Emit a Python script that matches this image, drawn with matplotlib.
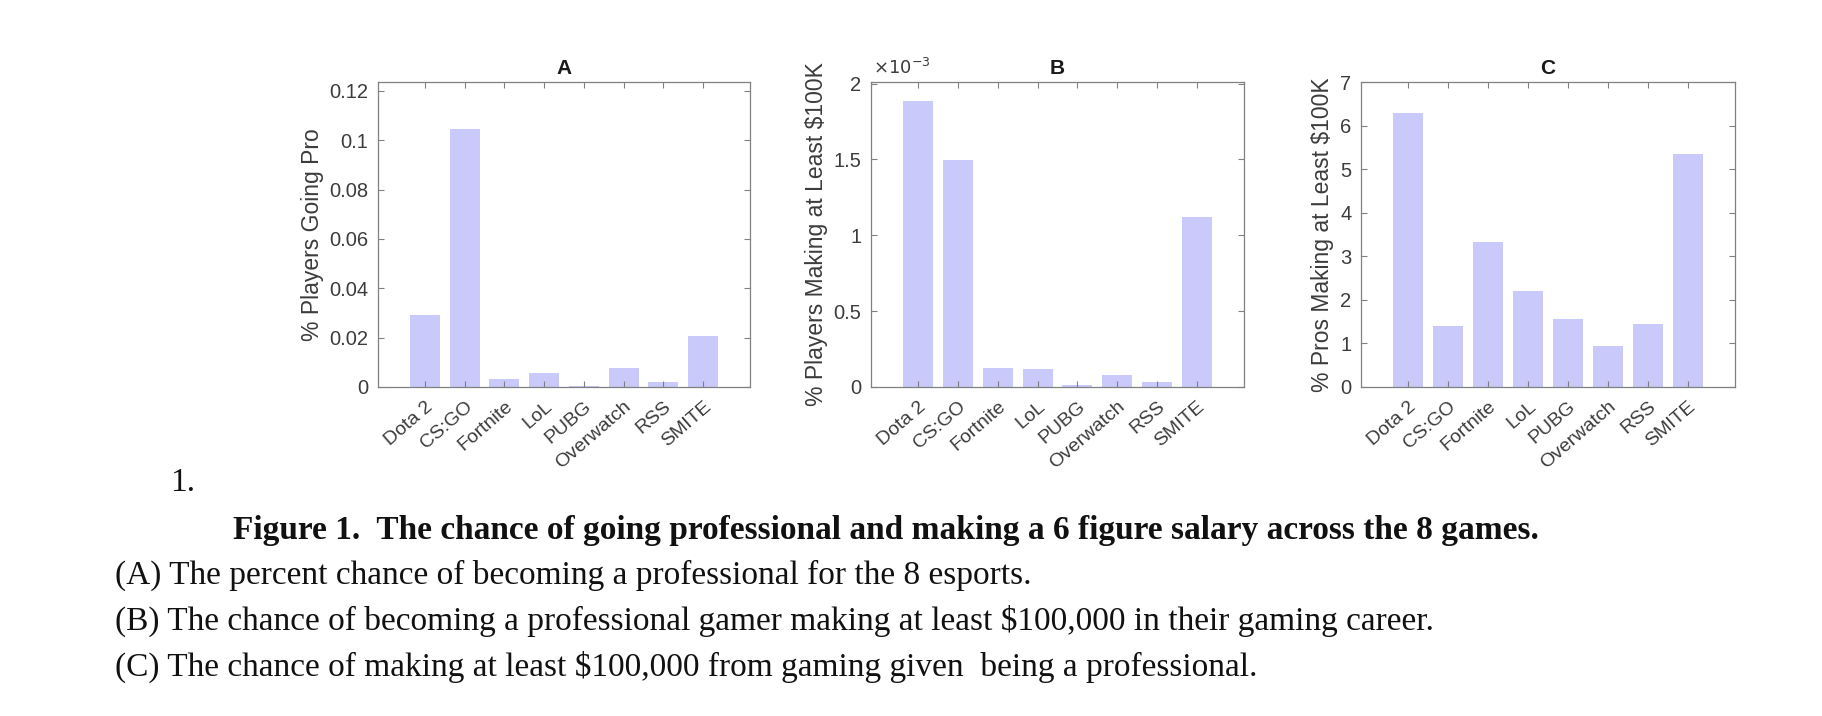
import numpy as np
import matplotlib
matplotlib.use('Agg')
import matplotlib.pyplot as plt
import matplotlib.transforms as mtransforms
from matplotlib.ticker import FuncFormatter

games = ['Dota 2', 'CS:GO', 'Fortnite', 'LoL', 'PUBG', 'Overwatch', 'RSS', 'SMITE']
pct_going_pro = [0.0293, 0.1047, 0.0034, 0.0057, 0.0004, 0.0079, 0.0020, 0.0205]
pct_players_100k = [1.884e-3, 1.495e-3, 0.125e-3, 0.121e-3, 0.010e-3, 0.077e-3, 0.030e-3, 1.12e-3]
pct_pros_100k = [6.28, 1.40, 3.33, 2.20, 1.55, 0.93, 1.45, 5.35]

W, H = 1822, 716
bar_color = '#c9c9fb'
text_color = '#3c3c3c'
axis_color = '#808080'

plt.rcParams['font.family'] = ['Liberation Sans', 'DejaVu Sans']

fig = plt.figure(figsize=(W / 100, H / 100), dpi=100)


def px_axes(x0, x1, y0, y1):
    return fig.add_axes([x0 / W, 1 - y1 / H, (x1 - x0) / W, (y1 - y0) / H])


panels = [
    ('A', pct_going_pro, '% Players Going Pro', 0.1236, np.arange(0, 0.121, 0.02), 1.0, (378, 750)),
    ('B', pct_players_100k, '% Players Making at Least \\$100K', 2.01e-3, np.arange(0, 2.01e-3, 0.5e-3), 1e3, (871, 1244)),
    ('C', pct_pros_100k, '% Pros Making at Least \\$100K', 7.0, np.arange(0, 7.1, 1), 1.0, (1361, 1735)),
]

# small shift of the rotated game names to the right, like the original
shift = mtransforms.ScaledTranslation(5 / 100, 0, fig.dpi_scale_trans)

x = np.arange(1, len(games) + 1)
for title, vals, ylab, ytop, yt, scale, (x0, x1) in panels:
    ax = px_axes(x0, x1, 82, 387)
    ax.bar(x, vals, width=0.75, color=bar_color, edgecolor='none')
    ax.set_xlim(-0.18, 9.18)
    ax.set_ylim(0, ytop)
    ax.set_yticks(yt)
    ax.yaxis.set_major_formatter(FuncFormatter(lambda v, p, s=scale: '%g' % round(v * s, 6)))
    ax.set_xticks(x)
    ax.set_xticklabels(games, rotation=41, ha='right', rotation_mode='anchor')
    for lbl in ax.get_xticklabels():
        lbl.set_transform(lbl.get_transform() + shift)
    ax.tick_params(direction='in', length=4, width=0.8, colors=axis_color,
                   labelcolor=text_color, top=True, right=True)
    ax.tick_params(axis='y', pad=7, labelsize=14.5)
    ax.tick_params(axis='x', pad=8, labelsize=14)
    for s in ax.spines.values():
        s.set_color(axis_color)
        s.set_linewidth(0.9)
    ax.set_ylabel(ylab, fontsize=16.5, color=text_color, labelpad=4)
    ax.set_title(title, fontsize=15, fontweight='bold', color='#1a1a1a', pad=6)
    if title == 'B':
        ax.text(0.005, 1.012, '$\\times10^{-3}$', transform=ax.transAxes, fontsize=13,
                color=text_color, ha='left', va='bottom')

serif = ['Liberation Serif', 'DejaVu Serif']
fig.text(170 / W, 1 - 491 / H, '1.', fontsize=24, family=serif, color='#111111', va='baseline')
fig.text(233 / W, 1 - 539 / H,
         'Figure 1.  The chance of going professional and making a 6 figure salary across the 8 games.',
         fontsize=24, family=serif, fontweight='bold', color='#111111', va='baseline')
captions = [
    '(A) The percent chance of becoming a professional for the 8 esports.',
    '(B) The chance of becoming a professional gamer making at least \\$100,000 in their gaming career.',
    '(C) The chance of making at least \\$100,000 from gaming given  being a professional.',
]
for i, line in enumerate(captions):
    fig.text(115 / W, 1 - (584 + i * 46) / H, line, fontsize=24, family=serif,
             color='#111111', va='baseline')

fig.savefig('out.png', dpi=100, facecolor='white')
